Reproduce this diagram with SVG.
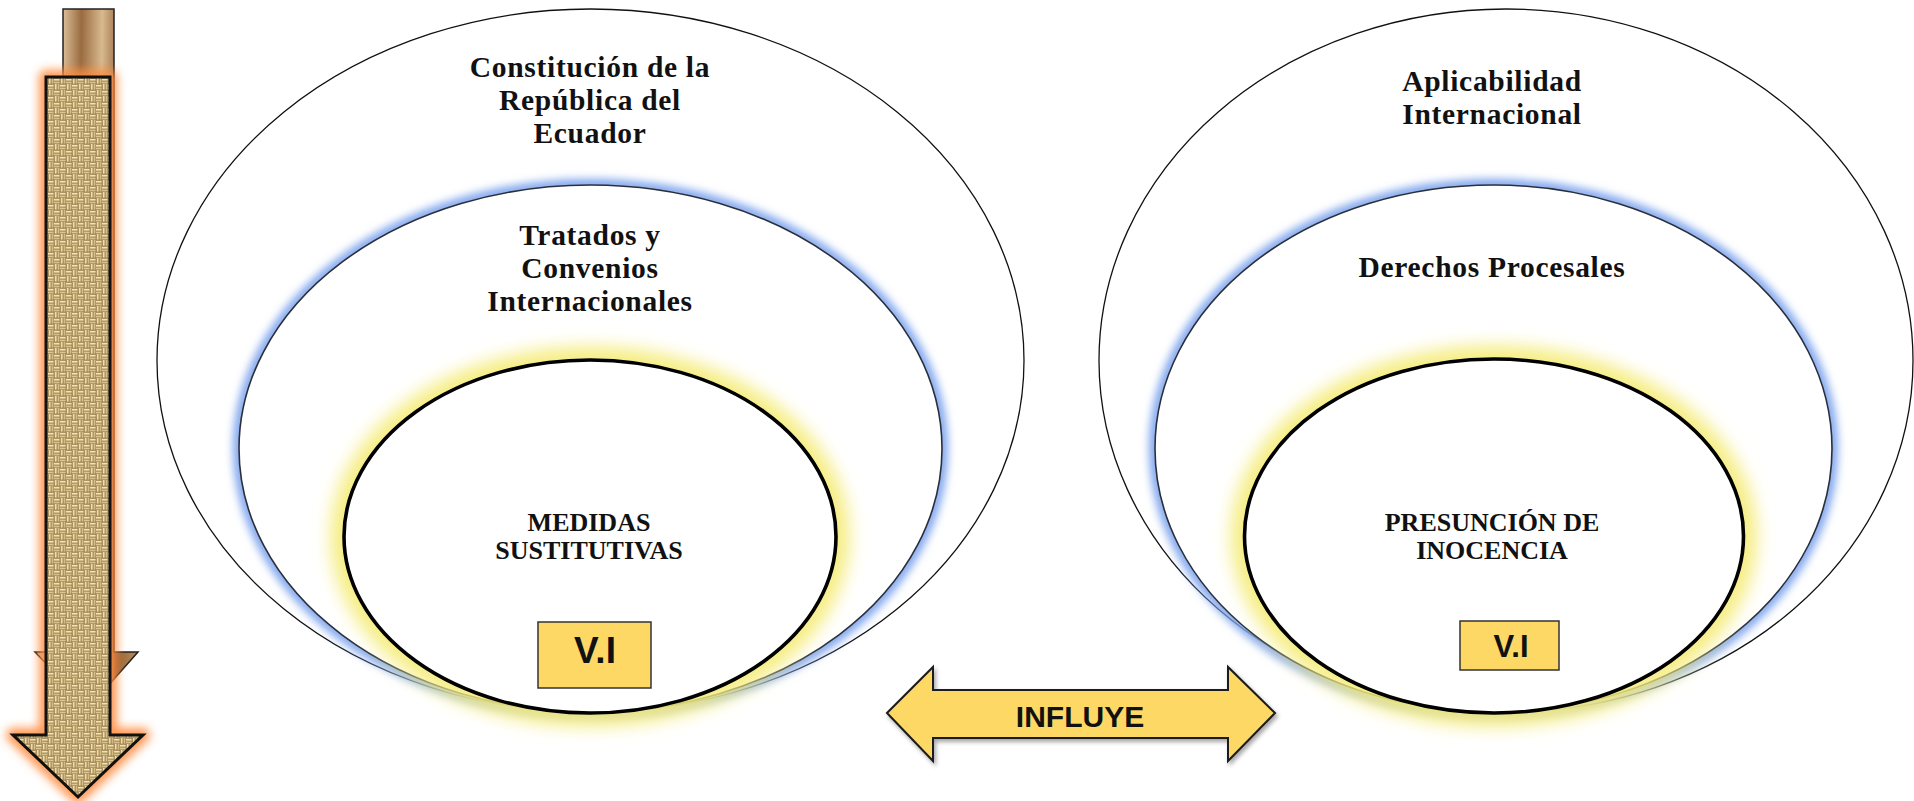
<svg xmlns="http://www.w3.org/2000/svg" width="1914" height="801" viewBox="0 0 1914 801">
<defs>
  <style>
    .serif{font-family:"Liberation Serif","Times New Roman",serif;font-weight:bold;fill:#111;text-anchor:middle}
    .big{font-size:29.5px;letter-spacing:0.7px}
    .small{font-size:26px}
    .sans{font-family:"Liberation Sans",Arial,sans-serif;font-weight:bold;fill:#111;text-anchor:middle}
    .outer{fill:#fff;stroke:#111;stroke-width:1.3}
    .mid{fill:#fff;stroke:#2a2f3a;stroke-width:1.6}
    .inner{fill:#fff;stroke:#000;stroke-width:3.6}
    .blueglow{fill:none;stroke:#7fa5ee;stroke-width:12}
    .yellowglow{fill:none;stroke:#f5ec7c;stroke-width:26}
    .box{fill:#fdd865;stroke:#333;stroke-width:1.5}
  </style>
  <filter id="blur4" x="-20%" y="-20%" width="140%" height="140%"><feGaussianBlur stdDeviation="4"/></filter>
  <filter id="blur9" x="-20%" y="-20%" width="140%" height="140%"><feGaussianBlur stdDeviation="9"/></filter>
  <filter id="blur6" x="-50%" y="-20%" width="200%" height="140%"><feGaussianBlur stdDeviation="5"/></filter>
  <filter id="shadow" x="-10%" y="-30%" width="120%" height="160%"><feDropShadow dx="2" dy="3" stdDeviation="2" flood-color="#000" flood-opacity="0.35"/></filter>
  <pattern id="burlap" width="12" height="12" patternUnits="userSpaceOnUse">
    <rect width="12" height="12" fill="#9c7e4c"/>
    <rect x="0" y="0.8" width="5.6" height="1.8" fill="#f2e4b8"/>
    <rect x="0" y="3.6" width="5.6" height="1.8" fill="#dcc58e"/>
    <rect x="6.8" y="0" width="1.8" height="5.6" fill="#eedfae"/>
    <rect x="9.6" y="0" width="1.8" height="5.6" fill="#d6bf88"/>
    <rect x="6" y="6.8" width="5.6" height="1.8" fill="#f0e2b4"/>
    <rect x="6" y="9.6" width="5.6" height="1.8" fill="#d9c28c"/>
    <rect x="0.8" y="6" width="1.8" height="5.6" fill="#ecdcaa"/>
    <rect x="3.6" y="6" width="1.8" height="5.6" fill="#d4bc84"/>
  </pattern>
  <linearGradient id="paper" x1="0" y1="0" x2="1" y2="0.08">
    <stop offset="0" stop-color="#c9a57a"/>
    <stop offset="0.25" stop-color="#e2c8a2"/>
    <stop offset="0.45" stop-color="#9a6b40"/>
    <stop offset="0.65" stop-color="#d8b98f"/>
    <stop offset="0.85" stop-color="#8c5c34"/>
    <stop offset="1" stop-color="#b0804f"/>
  </linearGradient>
</defs>

<g id="vertical-arrow">
  <path d="M63,9 H114 V652 H138 L88.5,708 L35,652 H63 Z" fill="url(#paper)" stroke="#222" stroke-width="1.5"/>
  <path d="M46,77 H110 V735 H143 L78,797 L13,735 H46 Z" fill="none" stroke="#ff8c40" stroke-width="14" stroke-linejoin="round" filter="url(#blur6)" opacity="0.9"/>
  <path d="M46,77 H110 V735 H143 L78,797 L13,735 H46 Z" fill="url(#burlap)" stroke="#111" stroke-width="3" stroke-linejoin="miter"/>
</g>

<g id="left-set">
  <g id="constitucion">
    <ellipse class="outer" cx="590.5" cy="360.5" rx="433.5" ry="351.5"/>
    <text class="serif big" x="590" y="77">Constitución de la</text>
    <text class="serif big" x="590" y="110">República del</text>
    <text class="serif big" x="590" y="143">Ecuador</text>
  </g>
  <g id="tratados">
    <ellipse class="blueglow" cx="590.5" cy="448.5" rx="351.5" ry="263.5" filter="url(#blur4)"/>
    <ellipse class="mid" cx="590.5" cy="448.5" rx="351.5" ry="263.5"/>
    <text class="serif big" x="590" y="245">Tratados y</text>
    <text class="serif big" x="590" y="278">Convenios</text>
    <text class="serif big" x="590" y="311">Internacionales</text>
  </g>
  <g id="medidas">
    <ellipse class="yellowglow" cx="590" cy="536.5" rx="246" ry="176.5" filter="url(#blur9)"/>
    <ellipse class="inner" cx="590" cy="536.5" rx="246" ry="176.5"/>
    <text class="serif small" x="589" y="531">MEDIDAS</text>
    <text class="serif small" x="589" y="559">SUSTITUTIVAS</text>
  </g>
  <g id="vi-left">
    <rect class="box" x="538" y="622" width="113" height="66"/>
    <text class="sans" font-size="37" x="595" y="663">V.I</text>
  </g>
</g>

<g id="right-set">
  <g id="aplicabilidad">
    <ellipse class="outer" cx="1506" cy="360.5" rx="407" ry="351.5"/>
    <text class="serif big" x="1492" y="91">Aplicabilidad</text>
    <text class="serif big" x="1492" y="124">Internacional</text>
  </g>
  <g id="derechos">
    <ellipse class="blueglow" cx="1493.5" cy="448.5" rx="338.5" ry="263.5" filter="url(#blur4)"/>
    <ellipse class="mid" cx="1493.5" cy="448.5" rx="338.5" ry="263.5"/>
    <text class="serif big" x="1492" y="277">Derechos Procesales</text>
  </g>
  <g id="presuncion">
    <ellipse class="yellowglow" cx="1494" cy="536" rx="249.5" ry="177" filter="url(#blur9)"/>
    <ellipse class="inner" cx="1494" cy="536" rx="249.5" ry="177"/>
    <text class="serif small" x="1492" y="531">PRESUNCIÓN DE</text>
    <text class="serif small" x="1492" y="559">INOCENCIA</text>
  </g>
  <g id="vi-right">
    <rect class="box" x="1460" y="621" width="99" height="49"/>
    <text class="sans" font-size="31" x="1511" y="657">V.I</text>
  </g>
</g>

<g id="connectors">
  <g id="influye">
    <path d="M887,713 L933,667 V690 H1228 V667 L1275,713 L1228,761 V738 H933 V761 Z" fill="#fdd865" stroke="#1a1a1a" stroke-width="2" stroke-linejoin="miter" filter="url(#shadow)"/>
    <text class="sans" font-size="30" x="1080" y="727">INFLUYE</text>
  </g>
</g>
</svg>
